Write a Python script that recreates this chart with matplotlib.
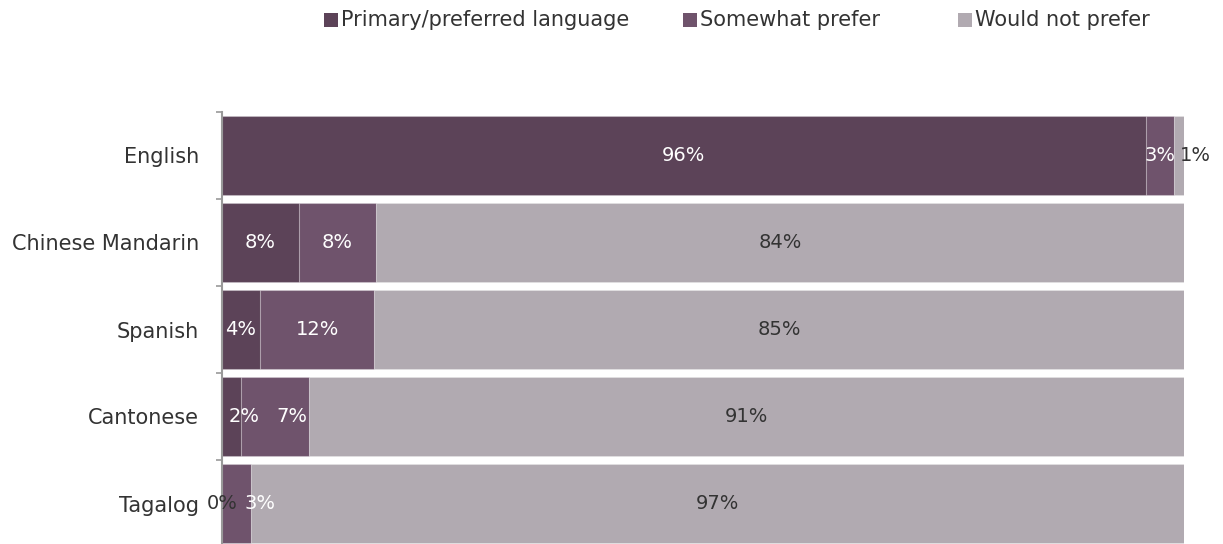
import numpy as np
import matplotlib.pyplot as plt
from matplotlib.patches import Rectangle

# Survey results, percent of respondents per language
languages = ['English', 'Chinese Mandarin', 'Spanish', 'Cantonese', 'Tagalog']
primary = [96, 8, 4, 2, 0]
somewhat = [3, 8, 12, 7, 3]
would_not = [1, 84, 85, 91, 97]

series_names = ['Primary/preferred language', 'Somewhat prefer', 'Would not prefer']
colors = ['#5c4358', '#6f536c', '#b1aab1']
label_colors = ['white', 'white', '#333333']
dark_text = '#333333'

# nudges (points) for labels that would otherwise collide
nudge = {(0, 2): 12, (4, 1): 17, (3, 0): 9, (3, 1): 12}

W, H = 1223, 544
fig = plt.figure(figsize=(W / 100, H / 100), dpi=100)
ax = fig.add_axes([222 / W, (H - 547) / H, 962 / W, 435 / H])

data = np.array([primary, somewhat, would_not], dtype=float)
totals = data.sum(axis=0)
shares = data / totals * 100  # 100% stacked

y = np.arange(len(languages))
left = np.zeros(len(languages))
for i in range(3):
    ax.barh(y, shares[i], left=left, height=0.9, color=colors[i],
            edgecolor=(1, 1, 1, 0.22), linewidth=0.8)
    for j in range(len(languages)):
        cx = left[j] + shares[i][j] / 2
        col = label_colors[i]
        if shares[i][j] == 0 or (i == 2 and shares[i][j] < 2):
            col = dark_text
        ax.annotate(f'{int(data[i][j])}%', (cx, y[j]),
                    xytext=(nudge.get((j, i), 0), 0), textcoords='offset points',
                    ha='center', va='center', fontsize=14, color=col)
    left += shares[i]

ax.set_xlim(0, 100)
ax.set_ylim(4.5, -0.5)
ax.set_xticks([])
ax.set_yticks(y)
ax.set_yticklabels(languages, fontsize=15, color=dark_text)
ax.tick_params(axis='y', which='major', length=0, pad=16.5)
ax.set_yticks(np.arange(-0.5, 5, 1), minor=True)
ax.tick_params(axis='y', which='minor', length=4, width=1.2, color='#999999', direction='out')
for s in ['top', 'right', 'bottom']:
    ax.spines[s].set_visible(False)
ax.spines['left'].set_color('#999999')
ax.spines['left'].set_linewidth(1.5)

# legend drawn as individual entries across the top
leg_x = [324, 683, 958]
for k in range(3):
    fig.add_artist(Rectangle((leg_x[k] / W, (H - 27) / H), 14 / W, 14 / H,
                             transform=fig.transFigure, color=colors[k], lw=0))
    fig.text((leg_x[k] + 17) / W, (H - 20) / H, series_names[k], fontsize=15,
             color=dark_text, ha='left', va='center')

fig.savefig('out.png', dpi=100)
